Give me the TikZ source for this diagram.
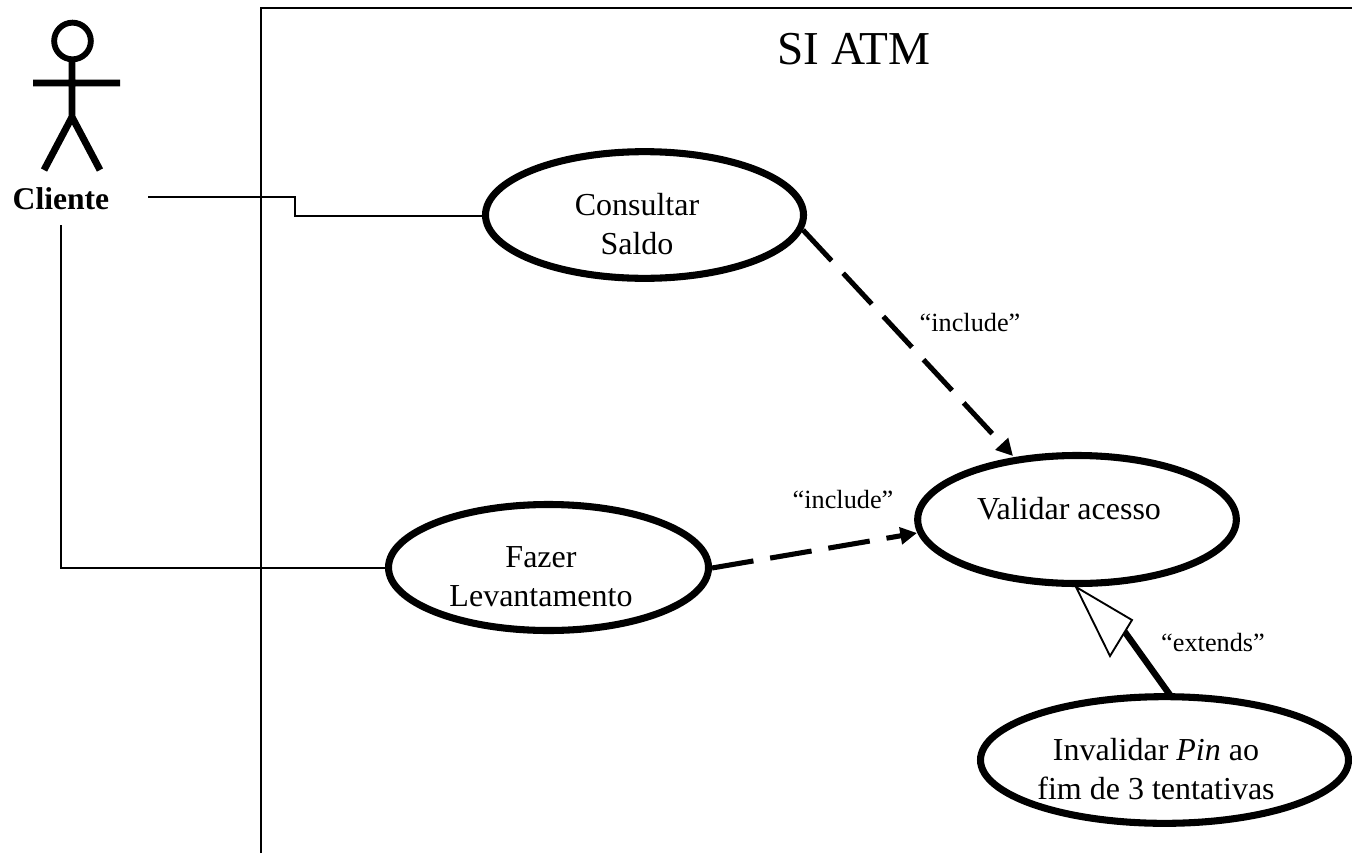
\documentclass[tikz,border=0pt]{standalone}
\usepackage{fontspec}
\setmainfont{Liberation Serif}
\usetikzlibrary{shapes.geometric,arrows.meta,calc}
\tikzset{
  x=0.75pt,y=-0.75pt,
  usecase/.style={draw,ellipse,line width=5.3pt,inner sep=0pt,outer sep=0pt,fill=white},
  uctext/.style={align=center,font=\fontsize{24}{29}\selectfont,inner sep=0pt},
  stereo/.style={font=\fontsize{19.7}{23}\selectfont,inner sep=0pt},
  assoc/.style={line width=1.6pt},
  depend/.style={line width=3.8pt,dash pattern=on 31.5pt off 12.75pt,-{Triangle[length=12.5pt,width=12.5pt]}},
  actorline/.style={line width=5.2pt},
}
\begin{document}
\begin{tikzpicture}
\useasboundingbox (0,0) rectangle (1352,853);
% system boundary
\coordinate (fb) at (261,853);
\coordinate (ft) at (261,8);
\coordinate (fr) at (1352,8);
\draw[line width=1.6pt] (fb) -- (ft) -- (fr);
\node[font=\fontsize{35.4}{42}\selectfont,inner sep=0pt] (title) at (854,49) {SI ATM};
% actor
\coordinate (neck) at (72,60);
\coordinate (hip) at (72,117);
\coordinate (armL) at (33,83);
\coordinate (armR) at (120,83);
\coordinate (footL) at (44,170);
\coordinate (footR) at (100,170);
\draw[actorline] (neck) -- (hip) (armL) -- (armR) (footL) -- (hip) -- (footR);
\node[draw,circle,line width=4.4pt,minimum size=27.5pt,inner sep=0pt,outer sep=0pt] (head) at (72.5,41) {};
\node[font=\bfseries\fontsize{23.7}{28}\selectfont,inner sep=0pt] (cliente) at (61,199) {Cliente};
% use cases
\node[usecase,minimum width=238.5pt,minimum height=95pt] (consultar) at (644.5,215) {};
\node[usecase,minimum width=240pt,minimum height=94.5pt] (fazer) at (548.5,567.5) {};
\node[usecase,minimum width=239pt,minimum height=96pt] (validar) at (1077,519.5) {};
\node[usecase,minimum width=276pt,minimum height=95pt] (invalidar) at (1164.5,760) {};
\node[uctext] (tconsultar) at (637,224) {Consultar\\Saldo};
\node[uctext] (tfazer) at (541,577) {Fazer\\Levantamento};
\node[uctext] (tvalidar) at (1069,509) {Validar acesso};
\node[uctext] (tinvalidar) at (1156,769) {Invalidar \textit{Pin} ao\\fim de 3 tentativas};
% associations
\coordinate (c1) at (148,197);
\coordinate (c2) at (295,197);
\coordinate (c3) at (295,216);
\coordinate (c4) at (61,225);
\coordinate (c5) at (61,568);
\draw[assoc] (c1) -- (c2) -- (c3) -- (consultar.west |- c3);
\draw[assoc] (c4) -- (c5) -- (fazer.west |- c5);
% dependencies
\coordinate (d1s) at (803,230);
\coordinate (d1e) at (1013,456);
\coordinate (d2s) at (712,568);
\coordinate (d2e) at (917,533);
\draw[depend] (d1s) -- (d1e);
\draw[depend] (d2s) -- (d2e);
\node[stereo] (inc1) at (970,323) {“include”};
\node[stereo] (inc2) at (843,500) {“include”};
% generalisation
\coordinate (gs) at (1170,695);
\coordinate (ge) at (1122,628);
\coordinate (tip) at (1076,587);
\coordinate (tb1) at (1132,620);
\coordinate (tb2) at (1110,656);
\draw[line width=4.8pt] (gs) -- (ge);
\draw[line width=1.4pt,fill=white,line join=miter] (tip) -- (tb1) -- (tb2) -- cycle;
\node[stereo] (ext) at (1213,643) {“extends”};
\end{tikzpicture}
\end{document}
